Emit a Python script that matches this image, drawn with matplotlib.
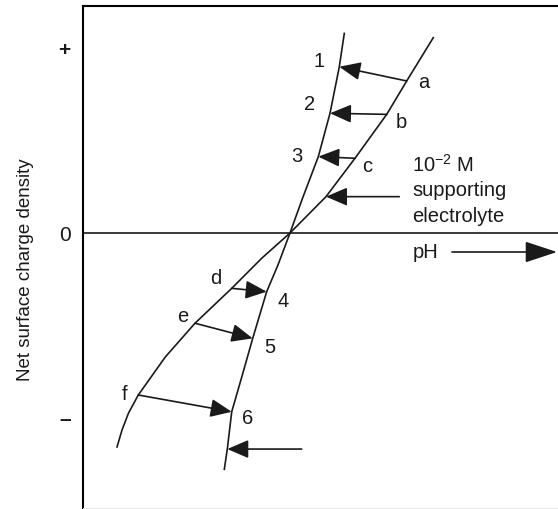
import matplotlib
matplotlib.use("Agg")
import matplotlib.pyplot as plt

plt.rcParams['font.family'] = ['Liberation Sans', 'DejaVu Sans']

# curve with supporting electrolyte (steep) and without (shallow)
steep_x = [5.501, 5.396, 5.200, 4.954, 4.621, 4.358, 4.105, 3.867, 3.573, 3.354, 3.131, 3.038, 2.975]
steep_y = [1.082, 0.901, 0.649, 0.414, 0.188, 0.0, -0.173, -0.318, -0.571, -0.770, -0.969, -1.171, -1.281]

shallow_x = [7.375, 6.815, 6.394, 5.726, 5.116, 4.358, 3.762, 3.131, 2.358, 1.733, 1.164, 0.958, 0.821, 0.716]
shallow_y = [1.059, 0.824, 0.643, 0.405, 0.197, 0.0, -0.137, -0.300, -0.489, -0.672, -0.878, -0.976, -1.068, -1.160]

# arrows: tail (x, y) -> head (x, y)
arrow_tails = [(6.815, 0.824), (6.394, 0.643), (5.726, 0.405), (6.659, 0.197),
               (3.131, -0.300), (2.358, -0.489), (1.164, -0.878), (4.604, -1.171)]
arrow_heads = [(5.396, 0.901), (5.200, 0.649), (4.954, 0.414), (5.116, 0.197),
               (3.867, -0.318), (3.573, -0.571), (3.131, -0.969), (3.038, -1.171)]

ph_tail = (7.768, -0.103)
ph_head = (9.979, -0.103)

point_labels = ['1', '2', '3', 'a', 'b', 'c', 'd', 'e', 'f', '4', '5', '6']
label_x = [4.975, 4.779, 4.512, 7.179, 6.695, 5.973, 2.800, 2.099, 0.884, 4.204, 3.937, 3.467]
label_y = [0.928, 0.694, 0.414, 0.817, 0.600, 0.359, -0.246, -0.450, -0.874, -0.372, -0.622, -1.005]

ytick_vals = [1, 0, -1]
ytick_labels = ['+', '0', '\u2013']

ink = '#1a1a1a'
fs = 14.5

fig = plt.figure(figsize=(5.58, 5.09), dpi=100)
ax = fig.add_axes([83 / 558, 1 / 509, 1 - 83 / 558, 1 - 6.7 / 509])

ax.plot(steep_x, steep_y, color=ink, lw=1.2)
ax.plot(shallow_x, shallow_y, color=ink, lw=1.2)
ax.axhline(0, color=ink, lw=1.2)

for t, h in zip(arrow_tails, arrow_heads):
    ax.annotate('', xy=h, xytext=t,
                arrowprops=dict(arrowstyle='-|>,head_length=0.65,head_width=0.28',
                                mutation_scale=20, color=ink, lw=1.2,
                                shrinkA=0, shrinkB=0))
ax.annotate('', xy=ph_head, xytext=ph_tail,
            arrowprops=dict(arrowstyle='-|>,head_length=1.0,head_width=0.33',
                            mutation_scale=20, color=ink, lw=1.2,
                            shrinkA=0, shrinkB=0))

for s, x, y in zip(point_labels, label_x, label_y):
    ax.text(x, y, s, fontsize=fs, ha='center', va='center', color=ink)

ax.text(6.926, 0.369, '10$^{\\mathregular{-2}}$ M', fontsize=fs, ha='left', va='center', color=ink)
ax.text(6.926, 0.233, 'supporting', fontsize=fs, ha='left', va='center', color=ink)
ax.text(6.926, 0.092, 'electrolyte', fontsize=fs, ha='left', va='center', color=ink)
ax.text(6.947, -0.103, 'pH', fontsize=fs, ha='left', va='center', color=ink)

ax.set_xlim(0, 10)
ax.set_ylim(-1.4905, 1.232)
ax.set_xticks([])
ax.set_yticks(ytick_vals)
ax.set_yticklabels(ytick_labels, fontsize=15, color=ink)
for lab in ax.get_yticklabels():
    if lab.get_text() != '0':
        lab.set_fontweight('bold')
ax.tick_params(axis='y', length=0, pad=9)
ax.set_ylabel('Net surface charge density', fontsize=13.5, color=ink)
ax.yaxis.set_label_coords(-0.104, 0.474)

ax.spines['right'].set_visible(False)
ax.spines['bottom'].set_color('#e6e6e6')
ax.spines['left'].set_linewidth(1.5)
ax.spines['top'].set_linewidth(1.5)

fig.savefig('out.png', dpi=100)
